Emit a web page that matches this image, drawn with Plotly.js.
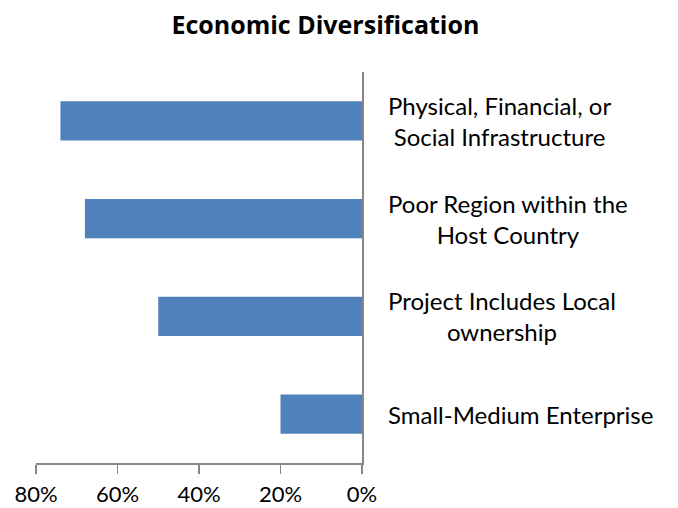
<!DOCTYPE html>
<html>
<head>
<meta charset="utf-8">
<script src="https://cdn.plot.ly/plotly-3.0.1.min.js"></script>
<style>html,body{margin:0;padding:0;background:#fff}#chart{width:678px;height:508px}</style>
</head>
<body>
<div id="chart"></div>
<script>
var categories = ["Physical, Financial, or<br>Social Infrastructure", "Poor Region within the<br>Host Country", "Project Includes Local<br>ownership", "Small-Medium Enterprise"];
var values = [0.74, 0.68, 0.50, 0.20];
var tickVals = [0.8, 0.6, 0.4, 0.2, 0];
var tickText = ["80%", "60%", "40%", "20%", "0%"];

var font = "Lato, 'Open Sans', sans-serif";
var trace = {
  type: "bar",
  orientation: "h",
  x: values,
  y: categories,
  marker: {color: "#4F81BD"},
  hoverinfo: "none"
};
var annotations = categories.map(function(c){
  return {xref: "paper", yref: "y", x: 1, y: c, xshift: 24, xanchor: "left", yanchor: "middle",
    align: "center", text: c, showarrow: false, font: {family: font, size: 24, color: "#000"}};
});
var layout = {
  width: 678, height: 508,
  margin: {l: 36, r: 316, t: 72, b: 45},
  paper_bgcolor: "#fff", plot_bgcolor: "#fff",
  showlegend: false,
  bargap: 0.6,
  title: {text: "<b>Economic Diversification</b>", x: 0.48, xanchor: "center", y: 0.95, yanchor: "middle",
    font: {family: "'Open Sans', sans-serif", size: 25, color: "#000"}},
  xaxis: {range: [0.8, 0], tickvals: tickVals, ticktext: tickText, showgrid: false, zeroline: false,
    showline: true, linecolor: "#868686", linewidth: 1.5, ticks: "outside", ticklen: 9, tickcolor: "#868686",
    tickwidth: 1.5, ticklabelstandoff: 2, tickfont: {family: font, size: 22, color: "#000"}, fixedrange: true},
  yaxis: {categoryorder: "array", categoryarray: categories.slice().reverse(), side: "right",
    showticklabels: false, showgrid: false, zeroline: false, showline: true, linecolor: "#868686",
    linewidth: 1.5, ticks: "", fixedrange: true},
  annotations: annotations
};
Plotly.newPlot("chart", [trace], layout, {displayModeBar: false, staticPlot: true});
</script>
</body>
</html>
